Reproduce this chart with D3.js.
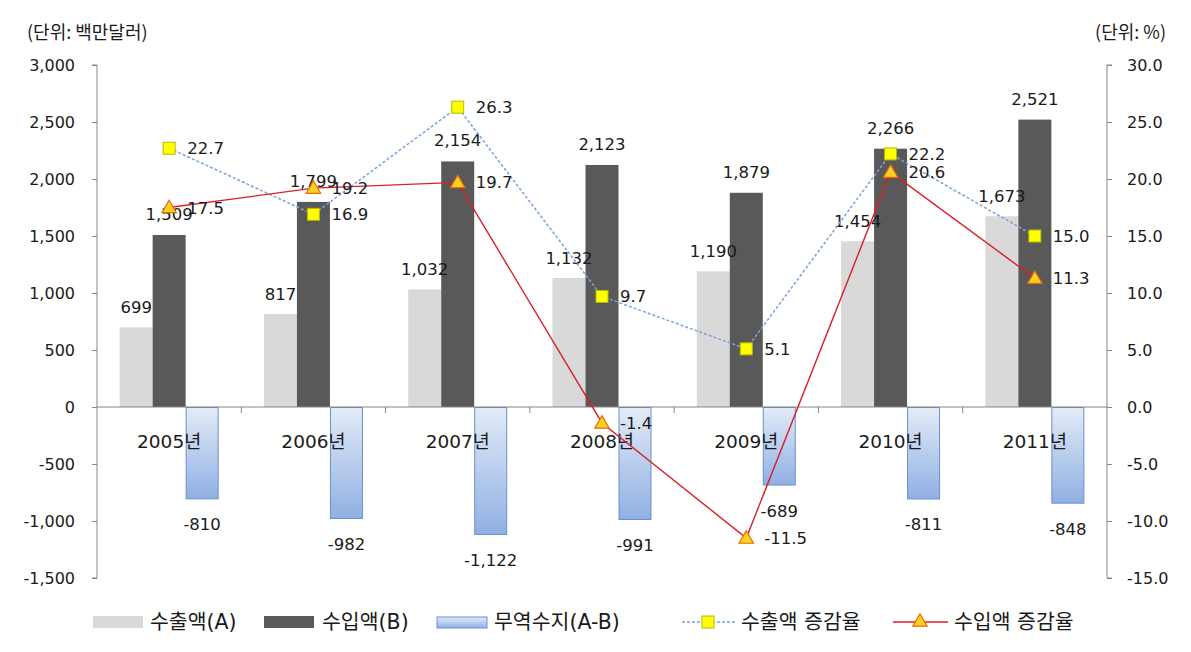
<!DOCTYPE html>
<html><head><meta charset="utf-8">
<script src="https://cdn.jsdelivr.net/npm/d3@7"></script>
<style>
body{margin:0;background:#fff;}
text{font-family:"DejaVu Sans","Noto Sans CJK KR",sans-serif;fill:#1a1a1a;}
</style></head>
<body><svg id="c" width="1191" height="652"></svg>
<script>
const categories = ["2005년","2006년","2007년","2008년","2009년","2010년","2011년"];
const exportVals = [699, 817, 1032, 1132, 1190, 1454, 1673];
const importVals = [1509, 1799, 2154, 2123, 1879, 2266, 2521];
const balanceVals = [-810, -982, -1122, -991, -689, -811, -848];
const exportGrowth = [22.7, 16.9, 26.3, 9.7, 5.1, 22.2, 15.0];
const importGrowth = [17.5, 19.2, 19.7, -1.4, -11.5, 20.6, 11.3];
const leftTicks = [3000,2500,2000,1500,1000,500,0,-500,-1000,-1500];
const rightTicks = [30,25,20,15,10,5,0,-5,-10,-15];
const seriesNames = ["수출액(A)","수입액(B)","무역수지(A-B)","수출액 증감율","수입액 증감율"];

const svg = d3.select("#c");
const L = 97, R = 1107, T = 65, B = 578;
const x = d3.scaleBand().domain(categories).range([L, R]);
const yL = d3.scaleLinear().domain([-1500, 3000]).range([B, T]);
const yR = d3.scaleLinear().domain([-15, 30]).range([B, T]);
const fmt = d => d3.format(",")(d).replace("\u2212","-");
const fmt1 = d => d3.format(".1f")(d).replace("\u2212","-");
const bw = 33;
const axisColor = "#868686";
const kFont = '"Noto Sans CJK KR","DejaVu Sans",sans-serif';

const defs = svg.append("defs");
const g = defs.append("linearGradient").attr("id","blueGrad").attr("x1",0).attr("y1",0).attr("x2",0).attr("y2",1);
g.append("stop").attr("offset","0%").attr("stop-color","#e3ebf7");
g.append("stop").attr("offset","100%").attr("stop-color","#8fb0e3");

// unit labels
svg.append("text").attr("x",27).attr("y",39).attr("font-size",18).style("font-family",kFont).text("(단위: 백만달러)");
svg.append("text").attr("x",1166).attr("y",39).attr("font-size",18).style("font-family",kFont).attr("text-anchor","end").text("(단위: %)");

// left axis
const la = svg.append("g").attr("transform",`translate(${L},0)`)
  .call(d3.axisLeft(yL).tickValues(leftTicks).tickFormat(fmt).tickSize(5).tickPadding(17));
la.selectAll("path,line").attr("stroke",axisColor);
la.select(".domain").attr("d",`M-5,${T}H0V${B}H-5`);
la.selectAll("text").attr("font-size",16).attr("fill","#1a1a1a").style("font-family",'"DejaVu Sans",sans-serif');

// right axis
const ra = svg.append("g").attr("transform",`translate(${R},0)`)
  .call(d3.axisRight(yR).tickValues(rightTicks).tickFormat(fmt1).tickSize(5).tickPadding(15));
ra.selectAll("path,line").attr("stroke",axisColor);
ra.select(".domain").attr("d",`M5,${T}H0V${B}H5`);
ra.selectAll("text").attr("font-size",16).attr("fill","#1a1a1a").style("font-family",'"DejaVu Sans",sans-serif');

const c = d => x(d) + x.bandwidth()/2;

// bars
svg.append("g").selectAll("rect").data(categories).join("rect")
  .attr("x", d => c(d) - 1.5*bw).attr("width", bw)
  .attr("y", (d,i) => yL(exportVals[i])).attr("height", (d,i) => yL(0) - yL(exportVals[i]))
  .attr("fill","#d9d9d9");
svg.append("g").selectAll("rect").data(categories).join("rect")
  .attr("x", d => c(d) - 0.5*bw).attr("width", bw)
  .attr("y", (d,i) => yL(importVals[i])).attr("height", (d,i) => yL(0) - yL(importVals[i]))
  .attr("fill","#595959");
svg.append("g").selectAll("rect").data(categories).join("rect")
  .attr("x", d => c(d) + 0.5*bw + 0.5).attr("width", bw - 1)
  .attr("y", yL(0) + 0.5).attr("height", (d,i) => yL(balanceVals[i]) - yL(0) - 1)
  .attr("fill","url(#blueGrad)").attr("stroke","#6d8fcc").attr("stroke-width",1);

// x axis line at 0
const xa = svg.append("g");
xa.append("line").attr("x1",L).attr("x2",R).attr("y1",yL(0)).attr("y2",yL(0)).attr("stroke",axisColor).attr("stroke-width",1.2);
xa.selectAll("line.tk").data(categories.slice(1)).join("line").attr("class","tk")
  .attr("x1", d => x(d)).attr("x2", d => x(d)).attr("y1", yL(0)).attr("y2", yL(0)+6).attr("stroke",axisColor);
xa.selectAll("text").data(categories).join("text")
  .attr("x", d => c(d)).attr("y", yL(0)+41).attr("text-anchor","middle").attr("font-size",18.5).text(d => d);

// bar labels
const lbl = svg.append("g").attr("font-size",16.5);
lbl.selectAll("text.e").data(categories).join("text").attr("class","e")
  .attr("x", d => c(d) - bw).attr("y", (d,i) => yL(exportVals[i]) - 14).attr("text-anchor","middle")
  .text((d,i) => fmt(exportVals[i]));
lbl.selectAll("text.i").data(categories).join("text").attr("class","i")
  .attr("x", d => c(d)).attr("y", (d,i) => yL(importVals[i]) - 15).attr("text-anchor","middle")
  .text((d,i) => fmt(importVals[i]));
lbl.selectAll("text.b").data(categories).join("text").attr("class","b")
  .attr("x", d => c(d) + bw).attr("y", (d,i) => yL(balanceVals[i]) + 31).attr("text-anchor","middle")
  .text((d,i) => fmt(balanceVals[i]));

// lines
const lineE = d3.line().x((d,i) => c(categories[i])).y(d => yR(d));
svg.append("path").datum(exportGrowth).attr("d", lineE).attr("fill","none")
  .attr("stroke","#7aa3d6").attr("stroke-width",1.5).attr("stroke-dasharray","3,2");
svg.append("path").datum(importGrowth).attr("d", lineE).attr("fill","none")
  .attr("stroke","#d9202a").attr("stroke-width",1.4);

// markers
const sq = 12;
svg.append("g").selectAll("rect").data(exportGrowth).join("rect")
  .attr("x", (d,i) => c(categories[i]) - sq/2).attr("y", d => yR(d) - sq/2)
  .attr("width", sq).attr("height", sq).attr("fill","#ffff00").attr("stroke","#b8b800").attr("stroke-width",1);
const tri = d3.symbol().type(d3.symbolTriangle).size(90);
svg.append("g").selectAll("path").data(importGrowth).join("path")
  .attr("d", tri).attr("transform", (d,i) => `translate(${c(categories[i])},${yR(d)+1})`)
  .attr("fill","#ffd21f").attr("stroke","#e46c0a").attr("stroke-width",1.2);

// line labels
const ll = svg.append("g").attr("font-size",16.5);
ll.selectAll("text.eg").data(exportGrowth).join("text").attr("class","eg")
  .attr("x", (d,i) => c(categories[i]) + 18).attr("y", d => yR(d) + 6).text(d => fmt1(d));
ll.selectAll("text.ig").data(importGrowth).join("text").attr("class","ig")
  .attr("x", (d,i) => c(categories[i]) + 18).attr("y", d => yR(d) + 6).text(d => fmt1(d));

// legend
const lg = svg.append("g").attr("font-size",20.5).style("font-family",kFont);
const ly = 622;
lg.append("rect").attr("x",93).attr("y",ly-6).attr("width",50).attr("height",12).attr("fill","#d9d9d9");
lg.append("text").attr("x",150).attr("y",ly+7).text(seriesNames[0]);
lg.append("rect").attr("x",264).attr("y",ly-6).attr("width",50).attr("height",12).attr("fill","#595959");
lg.append("text").attr("x",322).attr("y",ly+7).text(seriesNames[1]);
lg.append("rect").attr("x",437).attr("y",ly-5).attr("width",50).attr("height",11).attr("fill","url(#blueGrad)").attr("stroke","#6d8fcc");
lg.append("text").attr("x",494).attr("y",ly+7).text(seriesNames[2]);
lg.append("line").attr("x1",682).attr("x2",735).attr("y1",ly).attr("y2",ly).attr("stroke","#7aa3d6").attr("stroke-width",1.5).attr("stroke-dasharray","3,2");
lg.append("rect").attr("x",708-sq/2).attr("y",ly-sq/2).attr("width",sq).attr("height",sq).attr("fill","#ffff00").attr("stroke","#b8b800");
lg.append("text").attr("x",741).attr("y",ly+7).text(seriesNames[3]);
lg.append("line").attr("x1",893).attr("x2",948).attr("y1",ly).attr("y2",ly).attr("stroke","#d9202a").attr("stroke-width",1.4);
lg.append("path").attr("d",tri).attr("transform",`translate(920,${ly})`).attr("fill","#ffd21f").attr("stroke","#e46c0a").attr("stroke-width",1.2);
lg.append("text").attr("x",954).attr("y",ly+7).text(seriesNames[4]);
</script></body></html>
